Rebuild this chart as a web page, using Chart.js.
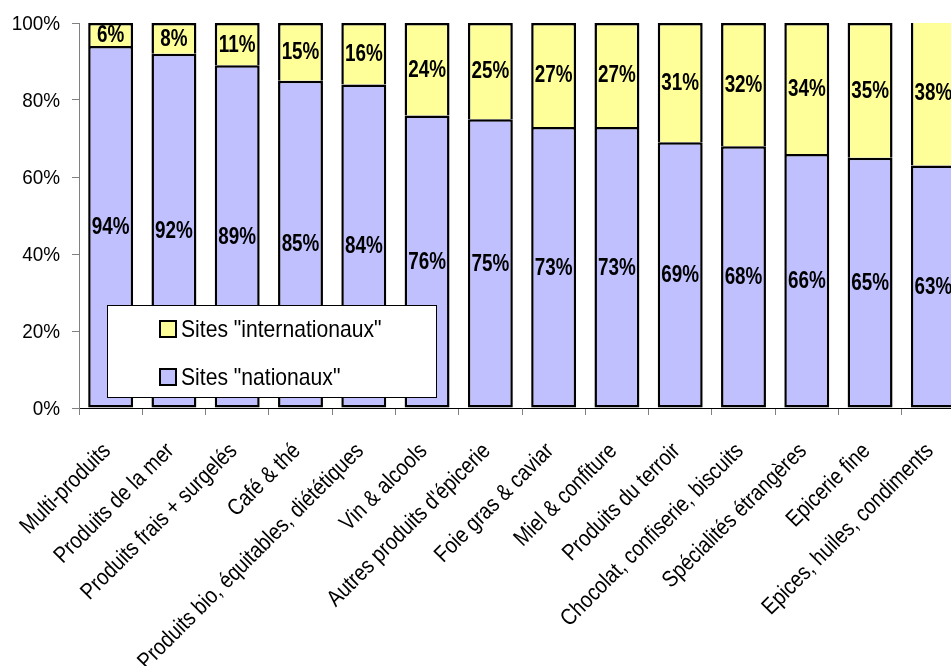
<!DOCTYPE html>
<html>
<head>
<meta charset="utf-8">
<script src="https://cdn.jsdelivr.net/npm/chart.js@4/dist/chart.umd.min.js"></script>
<style>
  html, body { margin: 0; padding: 0; background: #fff; }
  #wrap { width: 951px; height: 666px; overflow: hidden; position: relative; }
  canvas { display: block; }
</style>
</head>
<body>
<div id="wrap"><canvas id="c" width="965" height="666"></canvas></div>
<script>
const categories = [
  "Multi-produits",
  "Produits de la mer",
  "Produits frais + surgelés",
  "Café & thé",
  "Produits bio, équitables, diététiques",
  "Vin & alcools",
  "Autres produits d'épicerie",
  "Foie gras & caviar",
  "Miel & confiture",
  "Produits du terroir",
  "Chocolat, confiserie, biscuits",
  "Spécialités étrangères",
  "Epicerie fine",
  "Epices, huiles, condiments"
];
const nationaux      = [94, 92, 89, 85, 84, 76, 75, 73, 73, 69, 68, 66, 65, 63];
const internationaux = [6, 8, 11, 15, 16, 24, 25, 27, 27, 31, 32, 34, 35, 38];
const yTicks = [0, 20, 40, 60, 80, 100];
const seriesNames = ['Sites "nationaux"', 'Sites "internationaux"'];

const FONT = '"Liberation Sans", Arial, sans-serif';
const PURPLE = '#C0C0FF';
const YELLOW = '#FFFF99';

// condensed text: the glyphs are squeezed horizontally along the writing direction
function narrowText(ctx, text, x, y, squeeze, angle) {
  ctx.save();
  ctx.translate(x, y);
  if (angle) ctx.rotate(angle);
  ctx.scale(squeeze, 1);
  ctx.fillText(text, 0, 0);
  ctx.restore();
}

// value labels centred in every stacked segment
const segmentLabels = {
  id: 'segmentLabels',
  afterDatasetsDraw(chart) {
    const ctx = chart.ctx;
    ctx.save();
    ctx.font = 'bold 23px ' + FONT;
    ctx.fillStyle = '#000';
    ctx.textAlign = 'center';
    ctx.textBaseline = 'middle';
    chart.data.datasets.forEach((ds, di) => {
      const meta = chart.getDatasetMeta(di);
      meta.data.forEach((bar, i) => {
        const yMid = (bar.y + bar.base) / 2;
        narrowText(ctx, ds.data[i] + '%', bar.x, yMid + 1, 0.82, 0);
      });
    });
    ctx.restore();
  }
};

// axis labels in the condensed face
const axisLabels = {
  id: 'axisLabels',
  afterDraw(chart) {
    const ctx = chart.ctx;
    const xs = chart.scales.x, ys = chart.scales.y;
    ctx.save();
    ctx.fillStyle = '#000';
    // y ticks
    ctx.font = '21px ' + FONT;
    ctx.textAlign = 'right';
    ctx.textBaseline = 'middle';
    yTicks.forEach(v => {
      narrowText(ctx, v + '%', xs.left - 19, ys.getPixelForValue(v) + 1, 0.9, 0);
    });
    // category labels at 45°
    ctx.font = '23px ' + FONT;
    ctx.textAlign = 'right';
    ctx.textBaseline = 'alphabetic';
    categories.forEach((c, i) => {
      const px = xs.getPixelForValue(i);
      narrowText(ctx, c, px + 1, ys.bottom + 44, 0.85, -Math.PI / 4);
    });
    ctx.restore();
  }
};

// boxed legend placed inside the plot area
const boxedLegend = {
  id: 'boxedLegend',
  afterDraw(chart) {
    const ctx = chart.ctx;
    const a = chart.chartArea;
    const x0 = a.left + 28, y0 = a.top + 282, w = 330, h = 93;
    ctx.save();
    ctx.fillStyle = '#fff';
    ctx.fillRect(x0, y0, w, h);
    ctx.strokeStyle = '#000';
    ctx.lineWidth = 1;
    ctx.strokeRect(x0 + 0.5, y0 + 0.5, w - 1, h - 1);
    const entries = [
      { label: seriesNames[1], color: YELLOW, cy: y0 + 24 },
      { label: seriesNames[0], color: PURPLE, cy: y0 + 72 }
    ];
    ctx.font = '24px ' + FONT;
    ctx.textBaseline = 'middle';
    ctx.textAlign = 'left';
    entries.forEach(e => {
      const sx = x0 + 53, s = 16;
      ctx.fillStyle = e.color;
      ctx.fillRect(sx, e.cy - s / 2, s, s);
      ctx.lineWidth = 2;
      ctx.strokeStyle = '#000';
      ctx.strokeRect(sx, e.cy - s / 2, s, s);
      ctx.fillStyle = '#000';
      narrowText(ctx, e.label, sx + s + 5, e.cy + 1, 0.88, 0);
    });
    ctx.restore();
  }
};

new Chart(document.getElementById('c'), {
  type: 'bar',
  data: {
    labels: categories,
    datasets: [
      {
        label: seriesNames[0],
        data: nationaux,
        backgroundColor: PURPLE,
        borderColor: '#000',
        borderWidth: 2.5,
        borderSkipped: false,
        barPercentage: 0.71,
        categoryPercentage: 1
      },
      {
        label: seriesNames[1],
        data: internationaux,
        backgroundColor: YELLOW,
        borderColor: '#000',
        borderWidth: { top: 2.5, left: 2.5, right: 2.5, bottom: 0 },
        borderSkipped: false,
        barPercentage: 0.71,
        categoryPercentage: 1
      }
    ]
  },
  options: {
    responsive: false,
    animation: false,
    devicePixelRatio: 1,
    layout: { padding: { top: 23, left: 0, right: 0, bottom: 0 } },
    plugins: {
      legend: { display: false },
      tooltip: { enabled: false },
      title: { display: false }
    },
    scales: {
      x: {
        stacked: true,
        grid: {
          display: true,
          offset: true,
          drawOnChartArea: false,
          drawTicks: true,
          tickLength: 7,
          color: '#808080'
        },
        border: { display: true, color: '#000', width: 1 },
        ticks: { display: false, autoSkip: false },
        afterFit(scale) { scale.height = 258; }
      },
      y: {
        stacked: true,
        min: 0,
        max: 100,
        afterBuildTicks(scale) { scale.ticks = yTicks.map(v => ({ value: v })); },
        grid: {
          display: true,
          drawOnChartArea: false,
          drawTicks: true,
          tickLength: 7,
          color: '#808080'
        },
        border: { display: true, color: '#808080', width: 1 },
        ticks: { display: false },
        afterFit(scale) { scale.width = 79; }
      }
    }
  },
  plugins: [segmentLabels, axisLabels, boxedLegend]
});
</script>
</body>
</html>
